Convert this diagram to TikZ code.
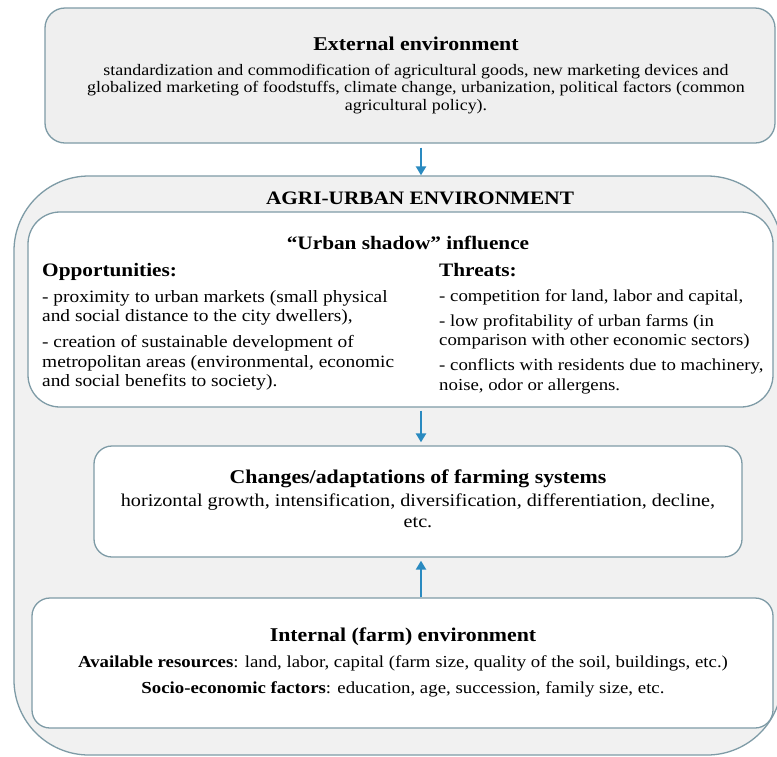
\documentclass[tikz,border=0pt]{standalone}
\usepackage{fontspec}
\setmainfont{Liberation Serif}[FakeStretch=1.12]
\usetikzlibrary{arrows.meta}
\definecolor{bord}{HTML}{7E9BA6}
\definecolor{graybg}{HTML}{F1F1F1}
\definecolor{extbg}{HTML}{EFEFEF}
\definecolor{arr}{HTML}{2A8AC0}
\begin{document}
\begin{tikzpicture}[x=1pt,y=-1pt,
  box/.style={draw=bord, line width=1.3pt, inner sep=0pt},
  txt/.style={inner sep=0pt, anchor=base, font=\fontsize{16}{19}\selectfont},
  txtl/.style={inner sep=0pt, anchor=base west, font=\fontsize{17.3}{20}\selectfont},
  ttl/.style={inner sep=0pt, anchor=base, font=\bfseries\fontsize{19.5}{22}\selectfont},
  arrowline/.style={draw=arr, line width=2.6pt, -{Triangle[length=9pt,width=10pt]}}]
\useasboundingbox (0,0) rectangle (777,756);
\fill[white] (0,0) rectangle (777,756);
\clip (0,0) rectangle (777,756);
\coordinate (ax) at (421,0);
% boxes
\node[box, fill=extbg, rounded corners=20pt, minimum width=730pt, minimum height=135pt] (ext) at (410,75.5) {};
\node[box, fill=graybg, rounded corners=75pt, minimum width=768pt, minimum height=579pt] (agri) at (398,465.5) {};
\node[box, fill=white, rounded corners=32pt, minimum width=745pt, minimum height=195pt] (urban) at (400.5,309.5) {};
\node[box, fill=white, rounded corners=18pt, minimum width=648pt, minimum height=111pt] (chg) at (418,501.5) {};
\node[box, fill=white, rounded corners=18pt, minimum width=741pt, minimum height=130pt] (int) at (402.5,663) {};
% external text
\node[ttl] (t1) at (416,50) {External environment};
\node[txt] (e1) at (416,75) {standardization and commodification of agricultural goods, new marketing devices and};
\node[txt] (e2) at (416,92.5) {globalized marketing of foodstuffs, climate change, urbanization, political factors (common};
\node[txt] (e3) at (416,110) {agricultural policy).};
% agri
\node[ttl, font=\bfseries\fontsize{19}{22}\selectfont] (t2) at (420,204) {AGRI-URBAN ENVIRONMENT};
\node[ttl, font=\bfseries\fontsize{19}{22}\selectfont] (t3) at (408,249) {“Urban shadow” influence};
\node[inner sep=0pt, anchor=base west, font=\bfseries\fontsize{19}{22}\selectfont] (op) at (42,276) {Opportunities:};
\node[inner sep=0pt, anchor=base west, font=\bfseries\fontsize{19}{22}\selectfont] (th) at (439,276) {Threats:};
\node[txtl] (o1) at (42,302) {- proximity to urban markets (small physical};
\node[txtl] (o2) at (42,321) {and social distance to the city dwellers),};
\node[txtl] (o3) at (42,347) {- creation of sustainable development of};
\node[txtl] (o4) at (42,367) {metropolitan areas (environmental, economic};
\node[txtl] (o5) at (42,386) {and social benefits to society).};
\node[txtl, font=\fontsize{16.8}{20}\selectfont] (h1) at (439,301) {- competition for land, labor and capital,};
\node[txtl, font=\fontsize{16.8}{20}\selectfont] (h2) at (439,326) {- low profitability of urban farms (in};
\node[txtl, font=\fontsize{16.8}{20}\selectfont] (h3) at (439,345) {comparison with other economic sectors)};
\node[txtl, font=\fontsize{16.8}{20}\selectfont] (h4) at (439,370) {- conflicts with residents due to machinery,};
\node[txtl, font=\fontsize{16.8}{20}\selectfont] (h5) at (439,390) {noise, odor or allergens.};
% changes
\node[ttl] (t4) at (418,483) {Changes/adaptations of farming systems};
\node[txt, font=\fontsize{18}{20}\selectfont] (c1) at (418,506) {horizontal growth, intensification, diversification, differentiation, decline,};
\node[txt, font=\fontsize{18}{20}\selectfont] (c2) at (418,527) {etc.};
% internal
\node[ttl] (t5) at (403,641) {Internal (farm) environment};
\node[txt, font=\fontsize{16.8}{20}\selectfont] (i1) at (403,667) {\textbf{Available resources}: land, labor, capital (farm size, quality of the soil, buildings, etc.)};
\node[txt, font=\fontsize{16.8}{20}\selectfont] (i2) at (403,693) {\textbf{Socio-economic factors}: education, age, succession, family size, etc.};
% arrows
\draw[arrowline, shorten <=4pt] (ext.south -| ax) -- (agri.north -| ax);
\draw[arrowline, shorten <=3pt, shorten >=3pt] (urban.south -| ax) -- (chg.north -| ax);
\draw[arrowline, shorten >=3pt] (int.north -| ax) -- (chg.south -| ax);
\end{tikzpicture}
\end{document}
